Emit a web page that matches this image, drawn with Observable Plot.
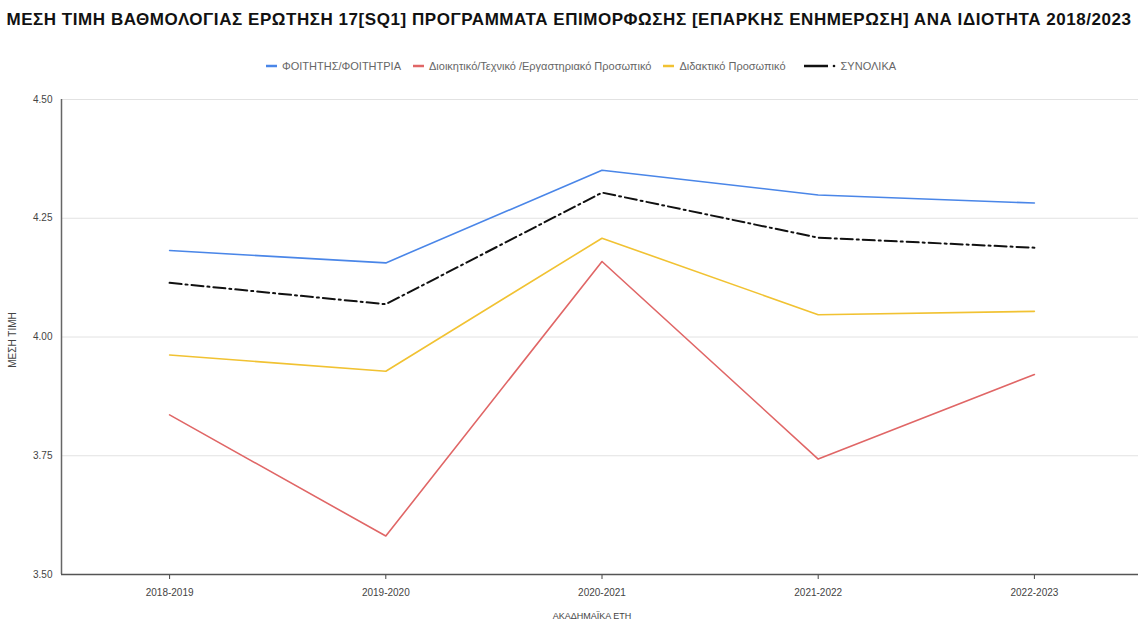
<!DOCTYPE html>
<html>
<head>
<meta charset="utf-8">
<script src="https://cdn.jsdelivr.net/npm/d3@7"></script>
<script src="https://cdn.jsdelivr.net/npm/@observablehq/plot@0.6"></script>
<style>
  body { margin: 0; background: #fff; font-family: "Liberation Sans", Arial, sans-serif; }
  #wrap { width: 1138px; height: 626px; position: relative; overflow: hidden; }
  #title { position: absolute; top: 10px; left: 0; width: 1138px; text-align: center; font-weight: bold; font-size: 17px; letter-spacing: 0.55px; line-height: 20px; color: #111; white-space: nowrap; }
  #legend { position: absolute; top: 59px; left: 12px; width: 1138px; display: flex; justify-content: center; align-items: center; font-size: 11px; color: #666; height: 14px; }
  .item { display: flex; align-items: center; margin: 0 6px; }
  .item svg { margin-right: 5px; }
  #chart { position: absolute; top: 80px; left: 0; }
</style>
</head>
<body>
<div id="wrap">
  <div id="title">ΜΕΣΗ ΤΙΜΗ ΒΑΘΜΟΛΟΓΙΑΣ ΕΡΩΤΗΣΗ 17[SQ1] ΠΡΟΓΡΑΜΜΑΤΑ ΕΠΙΜΟΡΦΩΣΗΣ [ΕΠΑΡΚΗΣ ΕΝΗΜΕΡΩΣΗ] ΑΝΑ ΙΔΙΟΤΗΤΑ 2018/2023</div>
  <div id="legend"></div>
  <div id="chart"></div>
</div>
<script>
const years = ["2018-2019", "2019-2020", "2020-2021", "2021-2022", "2022-2023"];
const seriesNames = ["ΦΟΙΤΗΤΗΣ/ΦΟΙΤΗΤΡΙΑ", "Διοικητικό/Τεχνικό /Εργαστηριακό Προσωπικό", "Διδακτικό Προσωπικό", "ΣΥΝΟΛΙΚΑ"];
const students = [4.182, 4.156, 4.351, 4.299, 4.282];
const adminStaff = [3.836, 3.581, 4.159, 3.743, 3.921];
const teachingStaff = [3.962, 3.928, 4.208, 4.047, 4.054];
const overall = [4.114, 4.069, 4.304, 4.209, 4.188];
const yTicks = [3.5, 3.75, 4.0, 4.25, 4.5];
const yLabel = "ΜΕΣΗ ΤΙΜΗ";
const xLabel = "ΑΚΑΔΗΜΑΪΚΑ ΕΤΗ";
const colors = ["#4a86e8", "#e06666", "#f1c232", "#111111"];
const dashes = [null, null, null, "12,4,2,4"];

const seriesValues = [students, adminStaff, teachingStaff, overall];
const data = [];
seriesValues.forEach((vals, s) => vals.forEach((v, i) => data.push({series: seriesNames[s], idx: i, value: v})));

// legend
const legend = document.getElementById("legend");
seriesNames.forEach((name, s) => {
  const item = document.createElement("div");
  item.className = "item";
  if (s === 3) item.style.marginLeft = "12px";
  const sw = s === 3
    ? `<svg width="32" height="6"><line x1="0" y1="3" x2="24" y2="3" stroke="${colors[s]}" stroke-width="2.5"/><circle cx="30" cy="3" r="1.3" fill="${colors[s]}"/></svg>`
    : `<svg width="11" height="6"><line x1="0" y1="3" x2="11" y2="3" stroke="${colors[s]}" stroke-width="2.5"/></svg>`;
  item.innerHTML = sw + `<span>${name}</span>`;
  legend.appendChild(item);
});

const chart = Plot.plot({
  width: 1138,
  height: 546,
  marginTop: 19,
  marginBottom: 52,
  marginLeft: 61,
  marginRight: 0,
  style: {fontFamily: "Liberation Sans, Arial, sans-serif", fontSize: "9px", color: "#444", background: "#fff"},
  x: {domain: [-0.5, 4.5], range: [61, 1142]},
  y: {domain: [3.5, 4.5]},
  marks: [
    Plot.ruleY(yTicks.slice(1), {stroke: "#e2e2e2", strokeWidth: 1}),
    Plot.axisY({ticks: yTicks, tickFormat: d3.format(".2f"), tickSize: 0, tickPadding: 9, label: null, fill: "#444", fontSize: 10}),
    Plot.axisX({ticks: [0,1,2,3,4], tickFormat: i => years[i], tickSize: 5, tickPadding: 9, label: null, fill: "#444", fontSize: 10}),
    Plot.text([yLabel], {frameAnchor: "left", textAnchor: "middle", rotate: -90, dx: -49, dy: 3, fill: "#444", fontSize: 10}),
    Plot.text([xLabel], {frameAnchor: "bottom", dy: 44, dx: -8, fill: "#444", fontSize: 9}),
    ...seriesNames.map((name, s) => Plot.line(data.filter(d => d.series === name), {
      x: "idx", y: "value", stroke: colors[s], strokeWidth: s === 3 ? 2 : 1.6,
      strokeDasharray: dashes[s] || undefined
    })),
    Plot.ruleX([-0.5], {stroke: "#666", strokeWidth: 1.5}),
    Plot.ruleY([3.5], {stroke: "#555", strokeWidth: 1.5})
  ]
});
document.getElementById("chart").appendChild(chart);
</script>
</body>
</html>
